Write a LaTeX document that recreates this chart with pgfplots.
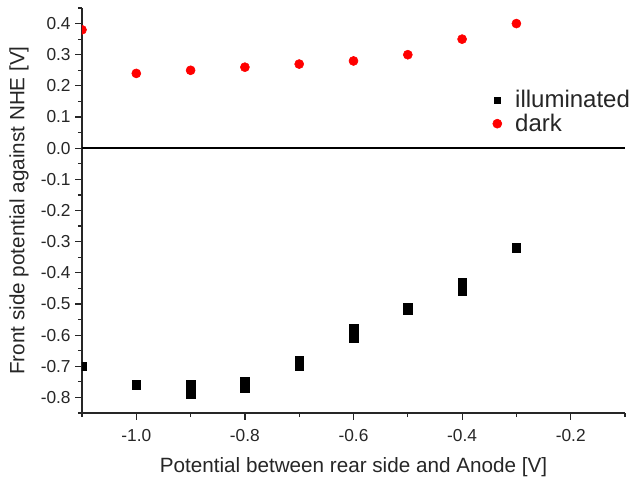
\documentclass[border=0pt]{standalone}
\usepackage{fontspec}
\setmainfont{Liberation Sans}
\usepackage{pgfplots}
\pgfplotsset{compat=1.18}
\begin{document}
\begin{tikzpicture}
\useasboundingbox (-61.5pt,-51pt) rectangle (414pt,309.75pt);
\begin{axis}[
  at={(0,0)}, anchor=south west,
  scale only axis,
  width=407.25pt, height=303.75pt,
  xmin=-1.1, xmax=-0.1, ymin=-0.85, ymax=0.45,
  axis lines=left,
  axis line style={-, line width=1pt, black!85},
  every tick/.style={black!85, line width=0.9pt},
  tick align=outside,
  major tick length=5pt, minor tick length=3pt,
  xtick={-1.0,-0.8,-0.6,-0.4,-0.2},
  minor xtick={-1.1,-0.9,-0.7,-0.5,-0.3,-0.1},
  ytick={-0.8,-0.7,-0.6,-0.5,-0.4,-0.3,-0.2,-0.1,0,0.1,0.2,0.3,0.4},
  minor ytick={-0.85,-0.75,-0.65,-0.55,-0.45,-0.35,-0.25,-0.15,-0.05,0.05,0.15,0.25,0.35,0.45},
  /pgf/number format/assume math mode=true,
  /pgf/number format/fixed, /pgf/number format/fixed zerofill, /pgf/number format/precision=1,
  tick label style={font=\fontsize{13}{15}\selectfont, text=black!85},
  xticklabel style={yshift=-4pt},
  xlabel={Potential between rear side and Anode [V]},
  ylabel={Front side potential against NHE [V]},
  every axis x label/.style={at={(axis description cs:0.5,-0.133)}, anchor=center, font=\fontsize{15.5}{18}\selectfont, text=black!85},
  every axis y label/.style={at={(axis description cs:-0.116,0.5)}, rotate=90, anchor=center, font=\fontsize{15.5}{18}\selectfont, text=black!85},
  clip marker paths=true,
  legend style={at={(0.756,0.80)}, anchor=north west, draw=none, fill=none,
    font=\fontsize{18}{18}\selectfont, row sep=1pt, inner sep=0pt,
    nodes={inner sep=1pt, text=black!85},
    /tikz/every odd column/.append style={column sep=9pt}},
  legend cell align=left,
  legend image code/.code={\draw[#1] plot coordinates {(0.15cm,0cm)};},
]
\addplot[black, line width=1.3pt, forget plot] coordinates {(-1.1,0) (-0.1,0)};
\addplot[only marks, mark=square*, mark size=3.2pt, black, legend image post style={mark size=2.3pt}] coordinates {
(-1.1,-0.70) (-1.0,-0.76) (-0.9,-0.76) (-0.9,-0.79) (-0.8,-0.75) (-0.8,-0.77)
(-0.7,-0.68) (-0.7,-0.70) (-0.6,-0.58) (-0.6,-0.61) (-0.5,-0.51) (-0.5,-0.52)
(-0.4,-0.43) (-0.4,-0.46) (-0.3,-0.32)};
\addlegendentry{illuminated}
\addplot[only marks, mark=*, mark size=3.4pt, red, mark options={fill=red, draw=red}] coordinates {
(-1.1,0.38) (-1.0,0.24) (-0.9,0.25) (-0.8,0.26) (-0.7,0.27) (-0.6,0.28) (-0.5,0.30) (-0.4,0.35) (-0.3,0.40)};
\addlegendentry{dark}
\end{axis}
\end{tikzpicture}
\end{document}
